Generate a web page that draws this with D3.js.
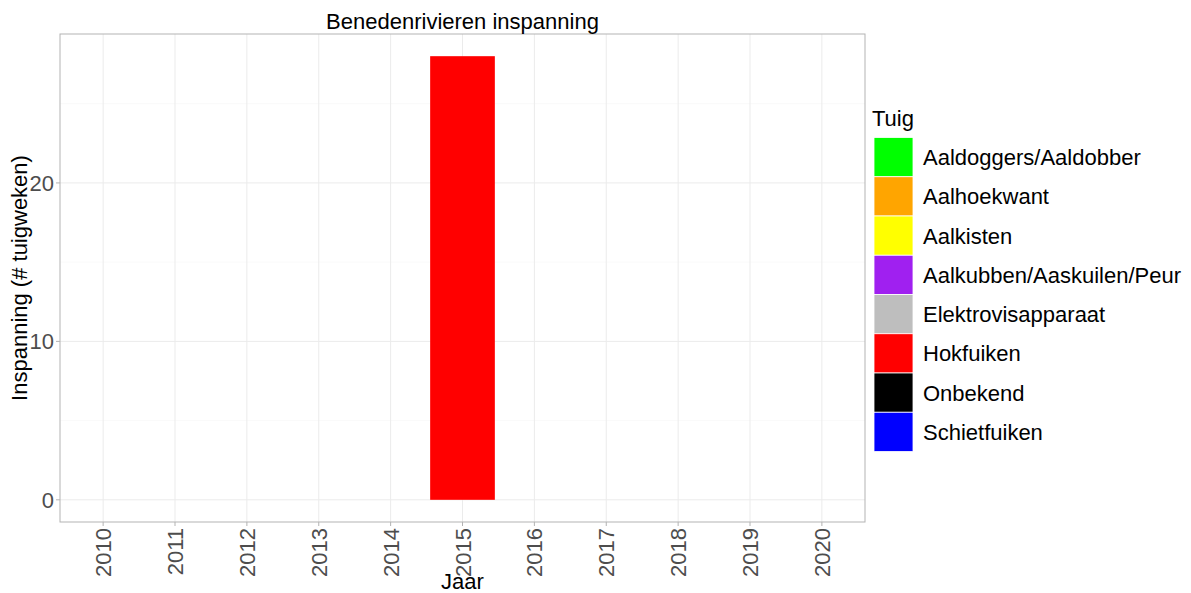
<!DOCTYPE html>
<html><head><meta charset="utf-8">
<script src="https://cdn.jsdelivr.net/npm/d3@7"></script>
<style>body{margin:0;background:#fff}svg{display:block}text{font-family:"Liberation Sans",Arial,sans-serif}</style>
</head><body>
<svg id="c" width="1191" height="593"></svg>
<script>
const years = ["2010","2011","2012","2013","2014","2015","2016","2017","2018","2019","2020"];
const gears = ["Aaldoggers/Aaldobber","Aalhoekwant","Aalkisten","Aalkubben/Aaskuilen/Peur","Elektrovisapparaat","Hokfuiken","Onbekend","Schietfuiken"];
const gearColors = ["#00FF00","#FFA500","#FFFF00","#A020F0","#BEBEBE","#FF0000","#000000","#0000FF"];
const barYears = ["2015"];
const barGear = ["Hokfuiken"];
const barValues = [28];
const yTicks = [0,10,20];
const yMinor = [5,15,25];

const svg = d3.select("#c");
const L = 60, R = 865, T = 34, B = 522;
const FS = 22;
const step = (R - L) / (years.length - 1 + 1.2);
const xc = d => L + step * (0.6 + years.indexOf(d));
const y = d3.scaleLinear().domain([-1.4, 29.4]).range([B, T]);
const color = d3.scaleOrdinal().domain(gears).range(gearColors);

// grid
const g = svg.append("g");
g.selectAll(".ym").data(yMinor).join("line").attr("x1", L).attr("x2", R)
  .attr("y1", d => y(d)).attr("y2", d => y(d)).attr("stroke", "#f5f5f5").attr("stroke-width", 0.6);
g.selectAll(".yM").data(yTicks).join("line").attr("x1", L).attr("x2", R)
  .attr("y1", d => y(d)).attr("y2", d => y(d)).attr("stroke", "#ebebeb").attr("stroke-width", 1);
g.selectAll(".xM").data(years).join("line").attr("y1", T).attr("y2", B)
  .attr("x1", d => xc(d)).attr("x2", d => xc(d)).attr("stroke", "#ebebeb").attr("stroke-width", 1);

// bars
const bars = barYears.map((yr, i) => ({year: yr, gear: barGear[i], value: barValues[i]}));
svg.selectAll(".bar").data(bars).join("rect")
  .attr("x", d => xc(d.year) - step * 0.45).attr("width", step * 0.9)
  .attr("y", d => y(d.value)).attr("height", d => y(0) - y(d.value))
  .attr("fill", d => color(d.gear));

// panel border
svg.append("rect").attr("x", L).attr("y", T).attr("width", R - L).attr("height", B - T)
  .attr("fill", "none").attr("stroke", "#b3b3b3").attr("stroke-width", 1);

// y axis
const ya = svg.append("g");
ya.selectAll("line").data(yTicks).join("line").attr("x1", L - 4).attr("x2", L)
  .attr("y1", d => y(d)).attr("y2", d => y(d)).attr("stroke", "#b3b3b3");
ya.selectAll("text").data(yTicks).join("text").attr("x", L - 6).attr("y", d => y(d))
  .attr("dy", "0.36em").attr("text-anchor", "end").attr("font-size", FS).attr("fill", "#4d4d4d").text(d => d);

// x axis
const xa = svg.append("g");
xa.selectAll("line").data(years).join("line").attr("x1", d => xc(d)).attr("x2", d => xc(d))
  .attr("y1", B).attr("y2", B + 4).attr("stroke", "#b3b3b3");
xa.selectAll("text").data(years).join("text")
  .attr("transform", d => `translate(${xc(d) + 8},${B + 6}) rotate(-90)`)
  .attr("text-anchor", "end").attr("font-size", FS).attr("fill", "#4d4d4d").text(d => d);

// titles
svg.append("text").attr("x", (L + R) / 2).attr("y", 29).attr("text-anchor", "middle")
  .attr("font-size", FS).attr("fill", "#000").text("Benedenrivieren inspanning");
svg.append("text").attr("x", (L + R) / 2).attr("y", 589).attr("text-anchor", "middle")
  .attr("font-size", FS).attr("fill", "#000").text("Jaar");
svg.append("text").attr("transform", `translate(27,${(T + B) / 2}) rotate(-90)`).attr("text-anchor", "middle")
  .attr("font-size", FS).attr("fill", "#000").text("Inspanning (# tuigweken)");

// legend
const lg = svg.append("g");
lg.append("text").attr("x", 872).attr("y", 126).attr("font-size", FS).attr("fill", "#000").text("Tuig");
const kh = 39.25;
lg.selectAll("rect").data(gears).join("rect").attr("x", 874).attr("y", (d, i) => 137.5 + i * kh)
  .attr("width", 39).attr("height", kh).attr("fill", d => color(d)).attr("stroke", "#fff").attr("stroke-width", 0.8);
lg.selectAll(".lt").data(gears).join("text").attr("x", 923).attr("y", (d, i) => 137.5 + i * kh + kh / 2)
  .attr("dy", "0.36em").attr("font-size", FS).attr("fill", "#000").text(d => d);
</script>
</body></html>
